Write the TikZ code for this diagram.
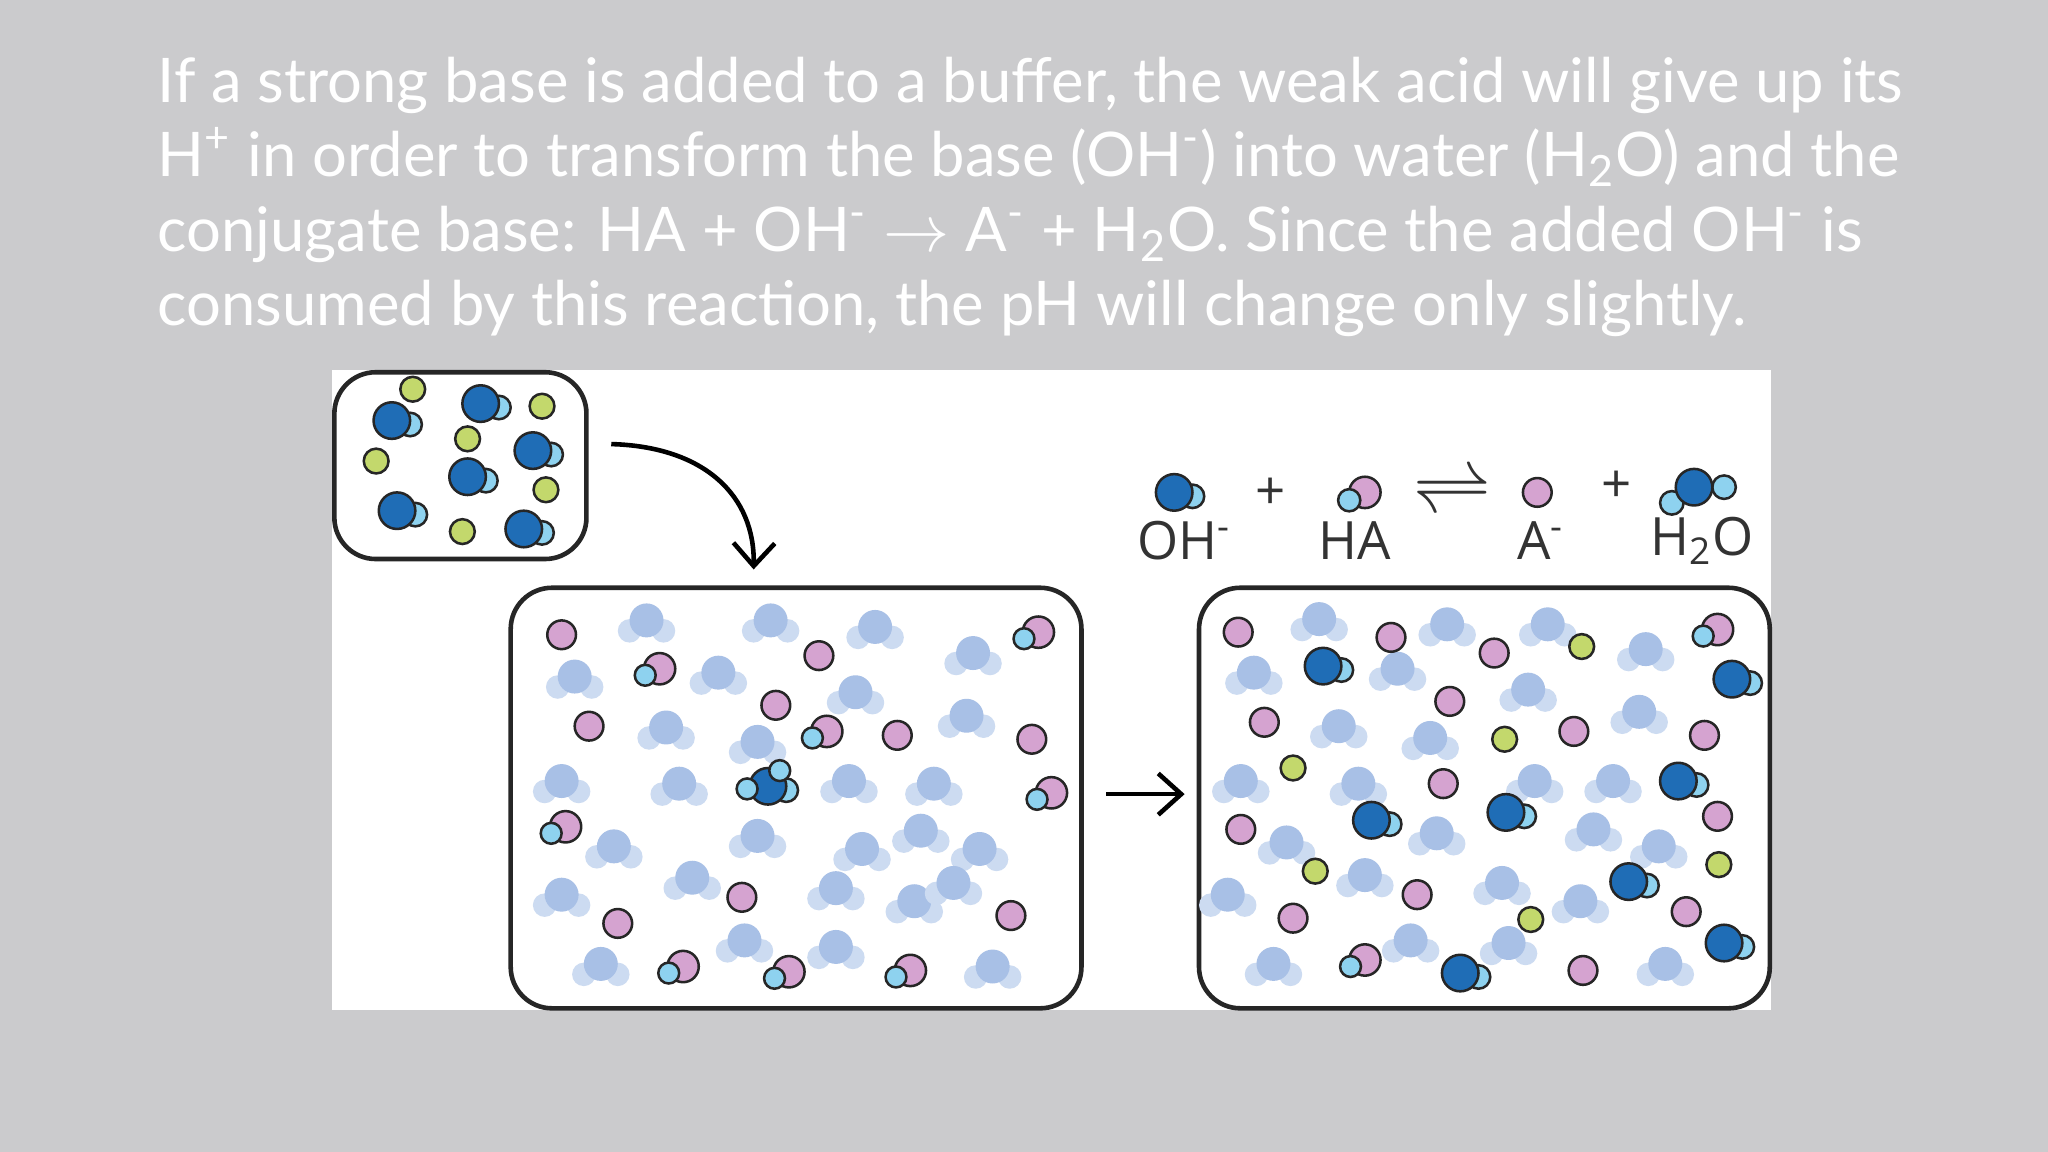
\documentclass[tikz,border=0pt]{standalone}
\usepackage{fontspec}
\setmainfont{Lato}
\setsansfont{Open Sans}
\usetikzlibrary{arrows.meta}
\definecolor{bg}{HTML}{CBCBCD}
\definecolor{watO}{HTML}{A8C0E6}
\definecolor{watH}{HTML}{CCDBF1}
\definecolor{ohO}{HTML}{1F6DB6}
\definecolor{ohH}{HTML}{8ED2EF}
\definecolor{pinkA}{HTML}{D5A3D0}
\definecolor{greenN}{HTML}{C3D86C}
\tikzset{ol/.style={draw=black!85,line width=0.55pt}}
\newcommand\wat[2]{\fill[watH] (#1-13,#2+8) circle (9) (#1+13,#2+8) circle (9); \fill[watO] (#1,#2) circle (13);}
\newcommand\ohm[2]{\draw[fill=ohH,ol] (#1+14,#2+3) circle (9); \draw[fill=ohO,ol] (#1,#2) circle (14);}
\newcommand\pnk[2]{\draw[fill=pinkA,ol] (#1,#2) circle (11);}
\newcommand\ha[2]{\draw[fill=pinkA,ol] (#1,#2) circle (12); \draw[fill=ohH,ol] (#1-11,#2+5) circle (8);}
\newcommand\grn[2]{\draw[fill=greenN,ol] (#1,#2) circle (9.5);}
\begin{document}
\begin{tikzpicture}[x=0.01cm,y=-0.01cm,
  box/.style={draw=black!85,line width=1pt,rounded corners=9pt,fill=white},
  arr/.style={line width=1pt,-{Straight Barb[length=5pt,width=9pt,line width=1pt]}},
  lbl/.style={font=\sffamily\fontsize{11.5}{11.5}\selectfont,text=black!80}]
\fill[bg] (0,0) rectangle (1568,882);
\useasboundingbox (0,0) rectangle (1568,882);
\node[anchor=north west,align=left,text=white,inner sep=0,font=\fontsize{13.4}{16.2}\selectfont] (title) at (120,43)
{If a strong base is added to a buffer, the weak acid will give up its\\
H\textsuperscript{+} in order to transform the base (OH\textsuperscript{-}) into water (H\textsubscript{2}O) and the\\
conjugate base: HA + OH\textsuperscript{-} $\rightarrow$ A\textsuperscript{-} + H\textsubscript{2}O. Since the added OH\textsuperscript{-} is\\
consumed by this reaction, the pH will change only slightly.};
\fill[white] (254,283) rectangle (1356,773);
\draw[box] (256,285) rectangle (449,428);
\draw[box] (391,450) rectangle (828,772);
\draw[box] (918,450) rectangle (1355,772);
\coordinate (cs) at (468,340);
\coordinate (ce) at (577,436);
\coordinate (ss) at (847,608);
\coordinate (se) at (907,608);
\draw[arr] (cs) .. controls (540,342) and (578,380) .. (ce);
\draw[arr] (ss) -- (se);
% small box
\ohm{300}{322}\ohm{368}{309}\ohm{408}{345}\ohm{358}{365}\ohm{304}{391}\ohm{401}{405}
\grn{316}{298}\grn{415}{311}\grn{358}{336}\grn{288}{353}\grn{418}{375}\grn{354}{407}
% left box
\foreach \a/\b in {495/475,590/475,670/480,440/518,550/515,745/500,655/530,510/557,580/568,740/548,430/598,520/600,650/598,715/600,470/648,580/640,660/650,705/636,750/650,430/685,530/672,640/680,700/690,730/676,460/738,570/720,640/725,760/740}{\wat{\a}{\b}}
\foreach \a/\b in {430/486,627/502,594/540,451/556,687/563,790/566,568/687,473/707,774/701}{\pnk{\a}{\b}}
\foreach \a/\b in {505/512,795/484,633/560,805/607,433/633,523/740,604/744,697/743}{\ha{\a}{\b}}
\ohm{588}{602}\draw[fill=ohH,ol] (572,604) circle (8) (597,590) circle (8);
% right box
\foreach \a/\b in {1010/474,1108/478,1185/478,960/515,1070/512,1260/497,1170/528,1025/556,1095/565,1255/545,950/598,1040/600,1175/598,1235/598,985/645,1100/638,1220/635,1270/648,940/685,1045/670,1150/676,1210/690,975/738,1080/720,1155/722,1275/738}{\wat{\a}{\b}}
\foreach \a/\b in {948/484,1065/488,1144/500,1110/537,968/553,1205/560,1305/563,1105/600,950/635,1315/625,1085/685,990/703,1291/698,1212/743}{\pnk{\a}{\b}}
\ha{1315}{482}\ha{1045}{735}
\foreach \a/\b in {1211/495,1152/566,990/588,1007/667,1316/662,1172/704}{\grn{\a}{\b}}
\foreach \a/\b in {1013/510,1326/520,1050/628,1153/622,1285/598,1247/675,1320/722,1118/745}{\ohm{\a}{\b}}
% equation
\ohm{899}{377}
\node[lbl] (plus1) at (973,378) {+};
\draw[fill=pinkA,ol] (1045,377) circle (12); \draw[fill=ohH,ol] (1033,383) circle (8.5);
\node[lbl,font=\fontsize{16}{16}\selectfont] (eq) at (1112,378) {$\rightleftharpoons$};
\draw[fill=pinkA,ol] (1177,377) circle (11);
\node[lbl] (plus2) at (1238,373) {+};
\draw[fill=ohH,ol] (1320,373) circle (9) (1280,385) circle (9); \draw[fill=ohO,ol] (1297,373) circle (14);
\node[lbl] (l1) at (907,414) {OH\textsuperscript{-}};
\node[lbl] (l2) at (1037,414) {HA};
\node[lbl] (l3) at (1180,414) {A\textsuperscript{-}};
\node[lbl] (l4) at (1303,414) {H\textsubscript{2}O};
\end{tikzpicture}
\end{document}
